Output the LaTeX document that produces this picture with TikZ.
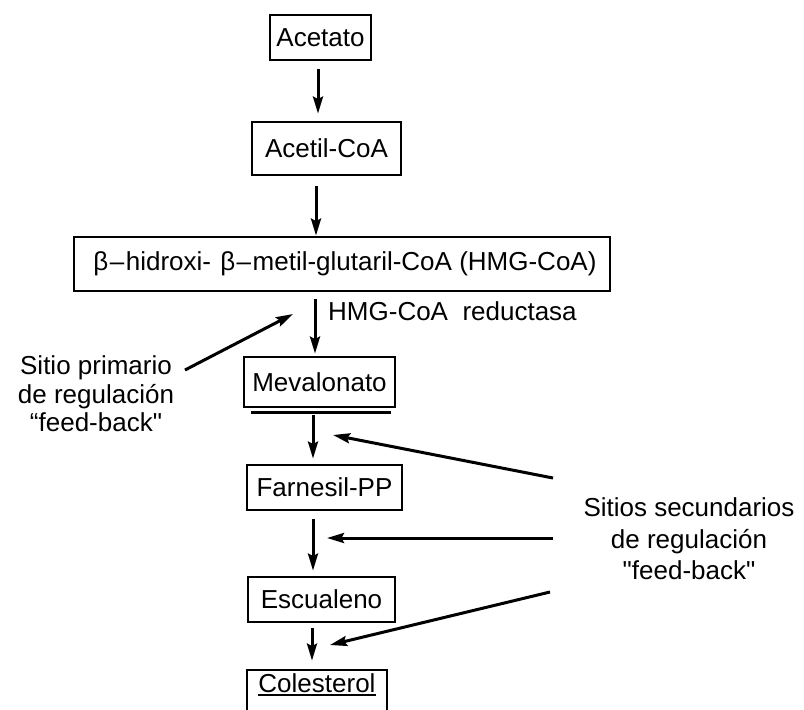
\documentclass[tikz,border=0pt]{standalone}
\usepackage{fontspec}
\setmainfont{Liberation Sans}[Ligatures=TeXOff]
\usetikzlibrary{arrows.meta}
\newcommand{\thul}[1]{\setbox0=\hbox{#1}\rlap{\rule[-3.5pt]{\wd0}{2.2pt}}\box0}
\begin{document}
\begin{tikzpicture}[x=1pt,y=-1pt,
  box/.style={draw,line width=2.8pt,inner sep=0pt,font=\fontsize{26}{30}\selectfont},
  lbl/.style={inner sep=0pt,font=\fontsize{26}{30}\selectfont,align=center},
  arr/.style={line width=3pt,-{Stealth[length=17pt,width=10pt,inset=2.5pt]}},
]
\useasboundingbox (0,0) rectangle (804,710);
% boxes
\node[box,minimum width=101pt,minimum height=45pt] (acetato) at (320.5,37.5) {Acetato};
\node[box,minimum width=149pt,minimum height=53pt] (acetil) at (326.5,148.5) {Acetil-CoA};
\node[box,minimum width=536pt,minimum height=54pt] (hmg) at (342,264) {\hspace*{6pt}β\hspace{1.5pt}–\hspace{1.5pt}hidroxi-\hspace{2pt} β\hspace{1.5pt}–\hspace{1.5pt}metil-glutaril-CoA (HMG-CoA)};
\node[box,minimum width=151pt,minimum height=50pt] (mev) at (319.5,382) {Mevalonato};
\node[box,minimum width=155pt,minimum height=45pt] (farn) at (324.5,487.5) {Farnesil-PP};
\node[box,minimum width=147pt,minimum height=45pt] (esc) at (321.5,599.5) {Escualeno};
\node[box,minimum width=140pt,minimum height=42pt,text height=19pt,text depth=16pt] (col) at (317,691) {\thul{Colesterol}};
% double underline of Mevalonato
\draw[line width=2.6pt] ([xshift=8pt,yshift=-4pt]mev.south west) -- ([xshift=-5pt,yshift=-4pt]mev.south east);
% labels
\node[lbl,anchor=base west] (enz) at (328,320) {HMG-CoA\ \ reductasa};
\node[lbl] (prim) at (96,394) {Sitio primario\\[-1.5pt]de regulación\\[-1.5pt]“feed-back"};
\node[lbl] (sec) at (689,539) {Sitios secundarios\\[1.5pt]de regulación\\[1.5pt]"feed-back"};
% main pathway arrows
\draw[arr,shorten <=8pt,shorten >=7pt] (acetato.south -| 318,0) -- (acetil.north -| 318,0);
\draw[arr,shorten <=10pt] (acetil.south -| 316,0) -- (hmg.north -| 316,0);
\draw[arr,shorten <=7pt,shorten >=2pt] (hmg.south -| 315,0) -- (mev.north -| 315,0);
\draw[arr,shorten <=7pt,shorten >=5pt] (mev.south -| 313,0) -- (farn.north -| 313,0);
\draw[arr,shorten <=8pt,shorten >=5pt] (farn.south -| 313,0) -- (esc.north -| 313,0);
\draw[arr,shorten <=5pt,shorten >=8pt] (esc.south -| 312,0) -- (col.north -| 312,0);
% feedback arrows
\coordinate (p0) at (185,370);
\coordinate (p1) at (293,314);
\coordinate (s1a) at (553,478);
\coordinate (s1b) at (333,435);
\coordinate (s2a) at (553,538);
\coordinate (s2b) at (327,538);
\coordinate (s3a) at (550,592);
\coordinate (s3b) at (330,645);
\draw[arr] (p0) -- (p1);
\draw[arr] (s1a) -- (s1b);
\draw[arr] (s2a) -- (s2b);
\draw[arr] (s3a) -- (s3b);
\end{tikzpicture}
\end{document}
